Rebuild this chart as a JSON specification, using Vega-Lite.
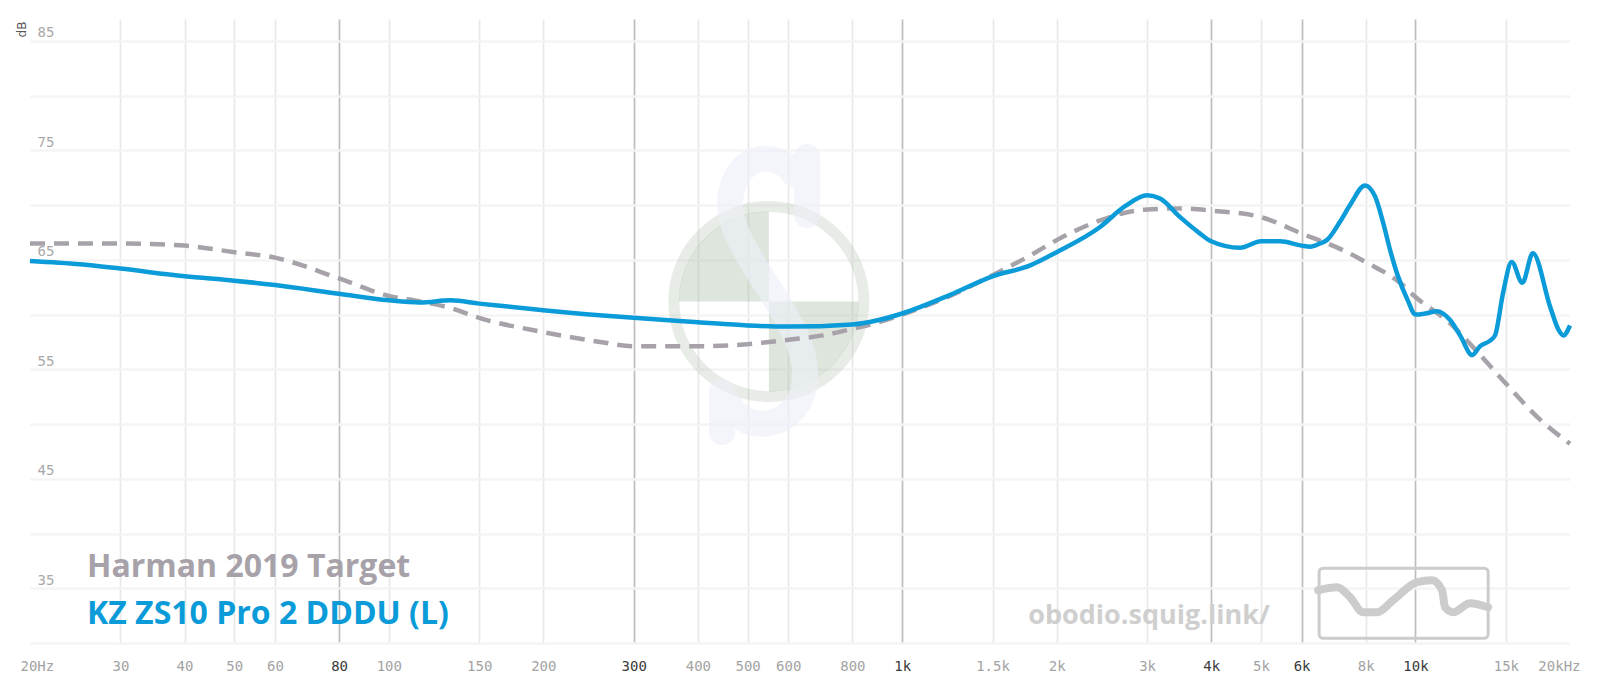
{
  "$schema": "https://vega.github.io/schema/vega-lite/v6.json",
  "width": 1540,
  "height": 624,
  "autosize": {"type": "none"},
  "padding": {"left": 30, "top": 19, "right": 30, "bottom": 49},
  "background": "white",
  "config": {"view": {"stroke": null}},
  "datasets": {
    "target": [
      {"f": 20, "db": 66.5}, {"f": 30, "db": 66.5}, {"f": 40, "db": 66.3}, {"f": 50, "db": 65.7},
      {"f": 60, "db": 65.2}, {"f": 80, "db": 63.3}, {"f": 100, "db": 61.7}, {"f": 115, "db": 61.2},
      {"f": 132, "db": 60.6}, {"f": 150, "db": 59.7}, {"f": 200, "db": 58.4}, {"f": 258, "db": 57.5},
      {"f": 300, "db": 57.1}, {"f": 400, "db": 57.1}, {"f": 500, "db": 57.3}, {"f": 600, "db": 57.7},
      {"f": 700, "db": 58.1}, {"f": 800, "db": 58.7}, {"f": 900, "db": 59.3}, {"f": 1000, "db": 60.0},
      {"f": 1240, "db": 61.7}, {"f": 1500, "db": 63.6}, {"f": 1776, "db": 65.4}, {"f": 2000, "db": 66.8},
      {"f": 2430, "db": 68.6}, {"f": 2718, "db": 69.3}, {"f": 3000, "db": 69.6}, {"f": 3480, "db": 69.7},
      {"f": 4000, "db": 69.5}, {"f": 5000, "db": 68.9}, {"f": 6000, "db": 67.4}, {"f": 7132, "db": 66.0},
      {"f": 8000, "db": 64.8}, {"f": 9332, "db": 62.9}, {"f": 10000, "db": 61.6}, {"f": 11680, "db": 59.2},
      {"f": 12900, "db": 57.1}, {"f": 15000, "db": 53.7}, {"f": 17490, "db": 50.4}, {"f": 20000, "db": 48.2}
    ],
    "kz": [
      {"f": 20, "db": 64.9}, {"f": 25, "db": 64.6}, {"f": 30, "db": 64.2}, {"f": 40, "db": 63.5},
      {"f": 50, "db": 63.1}, {"f": 60, "db": 62.7}, {"f": 80, "db": 61.9}, {"f": 100, "db": 61.3},
      {"f": 115, "db": 61.1}, {"f": 132, "db": 61.3}, {"f": 150, "db": 61.0}, {"f": 165, "db": 60.8},
      {"f": 200, "db": 60.4}, {"f": 300, "db": 59.7}, {"f": 400, "db": 59.3}, {"f": 500, "db": 59.0},
      {"f": 600, "db": 58.9}, {"f": 800, "db": 59.1}, {"f": 900, "db": 59.5}, {"f": 1000, "db": 60.1},
      {"f": 1240, "db": 61.8}, {"f": 1500, "db": 63.5}, {"f": 1776, "db": 64.5}, {"f": 2000, "db": 65.7},
      {"f": 2430, "db": 68.0}, {"f": 2718, "db": 69.9}, {"f": 3000, "db": 70.9}, {"f": 3180, "db": 70.6},
      {"f": 3480, "db": 68.9}, {"f": 3806, "db": 67.4}, {"f": 4000, "db": 66.7}, {"f": 4554, "db": 66.1},
      {"f": 5000, "db": 66.7}, {"f": 5448, "db": 66.7}, {"f": 6000, "db": 66.3}, {"f": 6236, "db": 66.2},
      {"f": 6520, "db": 66.5}, {"f": 6718, "db": 66.8}, {"f": 7132, "db": 68.5}, {"f": 7458, "db": 70.0},
      {"f": 7974, "db": 71.8}, {"f": 8342, "db": 70.8}, {"f": 8660, "db": 68.3}, {"f": 8924, "db": 65.9},
      {"f": 9200, "db": 63.8}, {"f": 9660, "db": 61.3}, {"f": 10000, "db": 60.0}, {"f": 10460, "db": 60.1},
      {"f": 11000, "db": 60.3}, {"f": 11680, "db": 59.5}, {"f": 12216, "db": 58.1}, {"f": 12900, "db": 56.3},
      {"f": 13350, "db": 57.1}, {"f": 13950, "db": 57.6}, {"f": 14290, "db": 58.1}, {"f": 14815, "db": 62.0},
      {"f": 15400, "db": 64.8}, {"f": 16150, "db": 62.9}, {"f": 16930, "db": 65.6}, {"f": 18300, "db": 60.7},
      {"f": 19000, "db": 58.6}, {"f": 19420, "db": 58.1}, {"f": 20000, "db": 59.0}
    ],
    "logo": [
      {"f": 6462, "db": 34.82}, {"f": 7036, "db": 35.09}, {"f": 7458, "db": 34.18}, {"f": 7906, "db": 32.81},
      {"f": 8420, "db": 32.81}, {"f": 9044, "db": 33.9}, {"f": 10074, "db": 35.55}, {"f": 10772, "db": 35.73},
      {"f": 11268, "db": 34.82}, {"f": 11420, "db": 33.26}, {"f": 11840, "db": 32.81}, {"f": 12780, "db": 33.63},
      {"f": 13854, "db": 33.26}
    ],
    "one": [{"k": 1}]
  },
  "layer": [
    {
      "data": {"name": "target"},
      "mark": {"type": "line", "interpolate": "monotone", "stroke": "#a7a2a9", "strokeWidth": 4.5, "opacity": 0},
      "encoding": {
        "x": {
          "field": "f", "type": "quantitative",
          "scale": {"type": "log", "domain": [20, 20000]},
          "axis": {
            "orient": "bottom", "title": null, "domain": false, "ticks": false,
            "values": [20, 30, 40, 50, 60, 80, 100, 150, 200, 300, 400, 500, 600, 800, 1000, 1500, 2000, 3000, 4000, 5000, 6000, 8000, 10000, 15000, 20000],
            "labelExpr": "datum.value == 20 ? '20Hz' : datum.value == 20000 ? '20kHz' : datum.value >= 1000 ? (datum.value / 1000) + 'k' : '' + datum.value",
            "labelFont": "DejaVu Sans Mono", "labelFontSize": 14, "labelPadding": 16,
            "labelFlush": true, "labelFlushOffset": 10, "labelOverlap": false, "labelBound": false,
            "labelColor": {"condition": {"test": "indexof([80, 300, 1000, 4000, 6000, 10000], datum.value) >= 0", "value": "#3a3a3a"}, "value": "#a3a3a3"},
            "grid": true,
            "gridColor": {"condition": {"test": "indexof([80, 300, 1000, 4000, 6000, 10000], datum.value) >= 0", "value": "#bdbdbd"}, "value": "#e8e8e8"},
            "gridOpacity": {"condition": {"test": "datum.value == 20 || datum.value == 20000", "value": 0}, "value": 1},
            "gridWidth": 1.7
          }
        },
        "y": {
          "field": "db", "type": "quantitative",
          "scale": {"domain": [30, 87], "nice": false, "zero": false},
          "axis": {
            "orient": "left", "domain": false, "ticks": false,
            "values": [30, 35, 40, 45, 50, 55, 60, 65, 70, 75, 80, 85],
            "labelExpr": "(datum.value - 35) % 10 == 0 ? datum.label : ''",
            "labelAlign": "left", "labelBaseline": "alphabetic", "labelPadding": -7, "labelOffset": -4,
            "labelFont": "DejaVu Sans Mono", "labelFontSize": 14, "labelColor": "#a8a8a8",
            "labelOverlap": false, "labelBound": false,
            "grid": true, "gridColor": "#f4f4f4", "gridWidth": 2.5,
            "title": "dB", "titleX": -9, "titleY": 10, "titleAngle": -90, "titleAlign": "center", "titleBaseline": "middle",
            "titleFont": "DejaVu Sans", "titleFontSize": 12, "titleFontWeight": "normal", "titleColor": "#555555"
          }
        }
      }
    },
    {
      "data": {"name": "one"},
      "mark": {"type": "point", "shape": "circle", "size": 36100, "filled": false, "stroke": "#acbeaa", "strokeWidth": 11, "strokeOpacity": 0.4},
      "encoding": {
        "x": {"datum": 550, "type": "quantitative", "scale": {"type": "log", "domain": [20, 20000]}},
        "y": {"datum": 61.2, "type": "quantitative", "scale": {"domain": [30, 87], "nice": false, "zero": false}}
      }
    },
    {
      "data": {"name": "one"},
      "mark": {"type": "point", "shape": "M0,0L-1,0A1,1 0 0 1 0,-1Z", "size": 32400, "filled": true, "fill": "#acbeaa", "fillOpacity": 0.4, "strokeWidth": 0},
      "encoding": {
        "x": {"datum": 550, "type": "quantitative", "scale": {"type": "log", "domain": [20, 20000]}},
        "y": {"datum": 61.2, "type": "quantitative", "scale": {"domain": [30, 87], "nice": false, "zero": false}}
      }
    },
    {
      "data": {"name": "one"},
      "mark": {"type": "point", "shape": "M0,0L1,0A1,1 0 0 1 0,1Z", "size": 32400, "filled": true, "fill": "#acbeaa", "fillOpacity": 0.4, "strokeWidth": 0},
      "encoding": {
        "x": {"datum": 550, "type": "quantitative", "scale": {"type": "log", "domain": [20, 20000]}},
        "y": {"datum": 61.2, "type": "quantitative", "scale": {"domain": [30, 87], "nice": false, "zero": false}}
      }
    },
    {
      "data": {"name": "one"},
      "mark": {"type": "point", "shape": "M0.228,-0.847C0.121,-1.025 -0.199,-1.025 -0.235,-0.669C-0.270,-0.313 0.335,0.185 0.299,0.612C0.263,0.968 -0.128,1.004 -0.235,0.790M0.313,-0.975L0.313,-0.562M-0.292,0.698L-0.292,0.982", "size": 78961, "filled": false, "stroke": "#edf0f7", "strokeWidth": 26, "strokeOpacity": 0.92, "strokeCap": "round"},
      "encoding": {
        "x": {"datum": 536, "type": "quantitative", "scale": {"type": "log", "domain": [20, 20000]}},
        "y": {"datum": 61.87, "type": "quantitative", "scale": {"domain": [30, 87], "nice": false, "zero": false}}
      }
    },
    {
      "data": {"name": "one"},
      "mark": {"type": "rect", "fill": null, "stroke": "#cccccc", "strokeWidth": 3, "cornerRadius": 4},
      "encoding": {
        "x": {"datum": 6490, "type": "quantitative", "scale": {"type": "log", "domain": [20, 20000]}},
        "x2": {"datum": 13854},
        "y": {"datum": 36.83, "type": "quantitative", "scale": {"domain": [30, 87], "nice": false, "zero": false}},
        "y2": {"datum": 30.43}
      }
    },
    {
      "data": {"name": "logo"},
      "mark": {"type": "line", "interpolate": "monotone", "stroke": "#cccccc", "strokeWidth": 8, "strokeCap": "round"},
      "encoding": {
        "x": {"field": "f", "type": "quantitative", "scale": {"type": "log", "domain": [20, 20000]}},
        "y": {"field": "db", "type": "quantitative", "scale": {"domain": [30, 87], "nice": false, "zero": false}}
      }
    },
    {
      "data": {"name": "one"},
      "mark": {"type": "text", "text": "obodio.squig.link/", "align": "right", "baseline": "alphabetic", "font": "Open Sans", "fontWeight": "bold", "fontSize": 27, "fill": "#cfcfcf"},
      "encoding": {
        "x": {"datum": 5208, "type": "quantitative", "scale": {"type": "log", "domain": [20, 20000]}},
        "y": {"datum": 31.7, "type": "quantitative", "scale": {"domain": [30, 87], "nice": false, "zero": false}}
      }
    },
    {
      "data": {"name": "target"},
      "mark": {"type": "line", "interpolate": "monotone", "stroke": "#a7a2a9", "strokeWidth": 4.5, "strokeDash": [15, 9]},
      "encoding": {
        "x": {"field": "f", "type": "quantitative", "scale": {"type": "log", "domain": [20, 20000]}},
        "y": {"field": "db", "type": "quantitative", "scale": {"domain": [30, 87], "nice": false, "zero": false}}
      }
    },
    {
      "data": {"name": "kz"},
      "mark": {"type": "line", "interpolate": "monotone", "stroke": "#0a9bd8", "strokeWidth": 4.5},
      "encoding": {
        "x": {"field": "f", "type": "quantitative", "scale": {"type": "log", "domain": [20, 20000]}},
        "y": {"field": "db", "type": "quantitative", "scale": {"domain": [30, 87], "nice": false, "zero": false}}
      }
    },
    {
      "data": {"name": "one"},
      "mark": {"type": "text", "text": "Harman 2019 Target", "align": "left", "baseline": "alphabetic", "font": "Open Sans", "fontWeight": "bold", "fontSize": 32, "fill": "#a7a2a9"},
      "encoding": {
        "x": {"datum": 25.83, "type": "quantitative", "scale": {"type": "log", "domain": [20, 20000]}},
        "y": {"datum": 36.04, "type": "quantitative", "scale": {"domain": [30, 87], "nice": false, "zero": false}}
      }
    },
    {
      "data": {"name": "one"},
      "mark": {"type": "text", "text": "KZ ZS10 Pro 2 DDDU (L)", "align": "left", "baseline": "alphabetic", "font": "Open Sans", "fontWeight": "bold", "fontSize": 32, "fill": "#0a9bd8"},
      "encoding": {
        "x": {"datum": 25.83, "type": "quantitative", "scale": {"type": "log", "domain": [20, 20000]}},
        "y": {"datum": 31.76, "type": "quantitative", "scale": {"domain": [30, 87], "nice": false, "zero": false}}
      }
    }
  ]
}
